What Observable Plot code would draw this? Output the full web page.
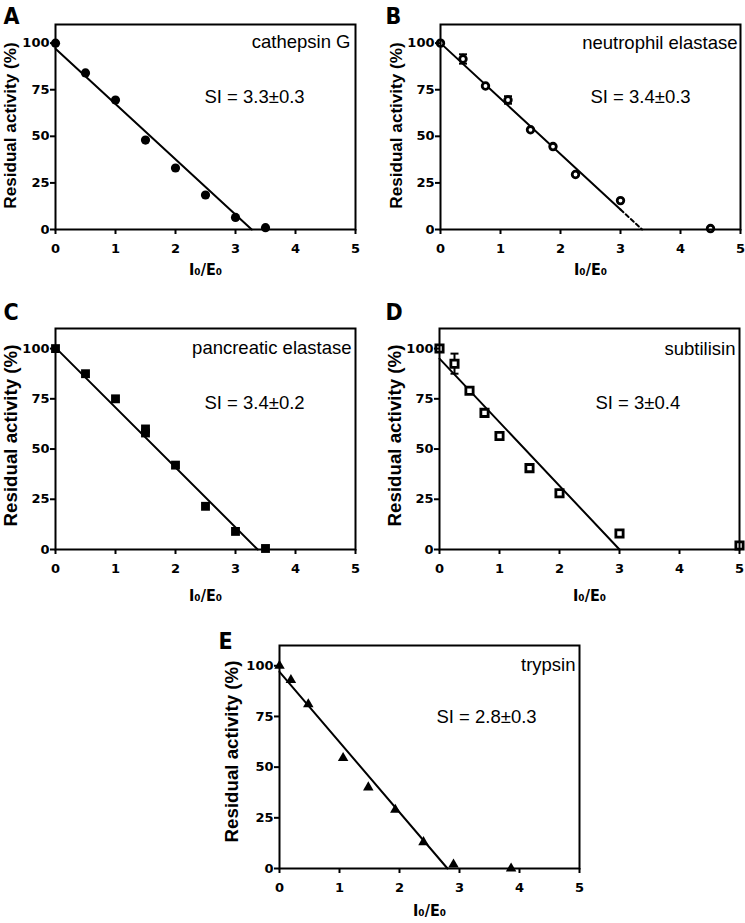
<!DOCTYPE html>
<html><head><meta charset="utf-8">
<script src="https://cdn.jsdelivr.net/npm/d3@7"></script>
<script src="https://cdn.jsdelivr.net/npm/@observablehq/plot@0.6"></script>
<style>
html,body{margin:0;padding:0;background:#fff;}
#fig{position:relative;width:745px;height:923px;overflow:hidden;background:#fff;}
#fig > div{position:absolute;}
#fig svg{overflow:visible;}
</style></head><body><div id="fig"></div>
<script>
// ---------- data ----------
const xTicks = [0, 1, 2, 3, 4, 5];
const yTicks = [0, 25, 50, 75, 100];
const panelLetters = ["A", "B", "C", "D", "E"];
const enzymes = ["cathepsin G", "neutrophil elastase", "pancreatic elastase", "subtilisin", "trypsin"];
const siLabels = ["SI = 3.3±0.3", "SI = 3.4±0.3", "SI = 3.4±0.2", "SI = 3±0.4", "SI = 2.8±0.3"];
const xTitle = "I₀/E₀";
const yTitle = "Residual activity (%)";

// A: cathepsin G
const xA = [0, 0.5, 1, 1.5, 2, 2.5, 3, 3.5];
const yA = [100, 84, 69.5, 48, 33, 18.5, 6.5, 1];
const fitXA = [0, 3.27], fitYA = [97, 0];
// B: neutrophil elastase
const xB = [0, 0.375, 0.75, 1.125, 1.5, 1.875, 2.25, 3, 4.5];
const yB = [100, 91.5, 77, 69.5, 53.5, 44.5, 29.5, 15.5, 0.5];
const errB = [0, 2.5, 0, 2, 0, 0, 0, 0, 0];
const fitXB = [0, 3], fitYB = [100, 10.7];
const dashXB = [3, 3.36], dashYB = [10.7, 0];
// C: pancreatic elastase
const xC = [0, 0.5, 1, 1.5, 1.5, 2, 2.5, 3, 3.5];
const yC = [100, 87.5, 75, 60, 58, 42, 21.5, 9, 0.5];
const fitXC = [0, 3.37], fitYC = [100.5, 0];
// D: subtilisin
const xD = [0, 0.25, 0.5, 0.75, 1, 1.5, 2, 3, 5];
const yD = [100, 92.5, 79, 68, 56.5, 40.5, 28, 8, 2];
const errD = [1, 5, 0, 0, 0, 0, 0, 0, 0];
const fitXD = [0, 3], fitYD = [95, 0];
// E: trypsin
const xE = [0, 0.19, 0.48, 1.06, 1.48, 1.93, 2.4, 2.9, 3.86];
const yE = [100, 93, 81, 54.5, 40, 29, 13, 2, 0];
const fitXE = [0, 2.8], fitYE = [97, 0];

// ---------- helpers ----------
const pts = (xs, ys, es) => xs.map((x, i) => ({x, y: ys[i], e: es ? es[i] : 0}));
const capSymbol = {draw(ctx) { ctx.moveTo(-4, 0); ctx.lineTo(4, 0); }};

const labelFont = "Liberation Sans, Arial, sans-serif";
const tickFont = "DejaVu Sans, sans-serif";
const condFont = "DejaVu Sans Condensed, Open Sans, DejaVu Sans, sans-serif";

const layout = [
  {left: 0,   top: 0,   w: 372, h: 300, ml: 55, mt: 24, mr: 17, mb: 71, nameDx: -5, nameDy: 10, siDx: 149, siDy: 65, letDx: -52, letDy: -17, xtDy: 34, ytDx: -44.5, ytDy: -1.5, ytSize: 17.1},
  {left: 372, top: 0,   w: 373, h: 300, ml: 68, mt: 24, mr: 5,  mb: 71, nameDx: -3, nameDy: 11, siDx: 150, siDy: 65, letDx: -55, letDy: -17, xtDy: 34, ytDx: -44.3, ytDy: -1.5, ytSize: 17.1},
  {left: 0,   top: 300, w: 372, h: 310, ml: 55, mt: 28, mr: 17, mb: 61, nameDx: -4, nameDy: 12, siDx: 149, siDy: 67, letDx: -52, letDy: -25, xtDy: 40, ytDx: -44.5, ytDy: -3.5, ytSize: 18.7},
  {left: 372, top: 300, w: 373, h: 310, ml: 67, mt: 28, mr: 6,  mb: 61, nameDx: -4, nameDy: 13, siDx: 156, siDy: 67, letDx: -54, letDy: -25, xtDy: 40, ytDx: -44.5, ytDy: -3.5, ytSize: 18.7},
  {left: 200, top: 610, w: 390, h: 313, ml: 79, mt: 35, mr: 11, mb: 55, nameDx: -4, nameDy: 12, siDx: 157, siDy: 64, letDx: -61, letDy: -13, xtDy: 36, ytDx: -47.5, ytDy: -5.5, ytSize: 18.7}
];

const pointStyles = [
  {symbol: "circle", r: 4.6, fill: "black"},
  {symbol: "circle", r: 3.3, fill: "white", stroke: "black", strokeWidth: 2.8},
  {symbol: "square", r: 5, fill: "black"},
  {symbol: "square", r: 4.1, fill: "white", stroke: "black", strokeWidth: 2.8},
  {symbol: "triangle", r: 3.9, fill: "black"}
];

const series = [
  {pts: pts(xA, yA), fits: [[fitXA, fitYA, null]]},
  {pts: pts(xB, yB, errB), fits: [[fitXB, fitYB, null], [dashXB, dashYB, "4,3"]]},
  {pts: pts(xC, yC), fits: [[fitXC, fitYC, null]]},
  {pts: pts(xD, yD, errD), fits: [[fitXD, fitYD, null]]},
  {pts: pts(xE, yE), fits: [[fitXE, fitYE, null]]}
];

const fig = document.getElementById("fig");

series.forEach((s, i) => {
  const L = layout[i];
  const errs = s.pts.filter(d => d.e > 0);
  const marks = [
    ...s.fits.map(([fx, fy, dash]) => Plot.line(pts(fx, fy), {x: "x", y: "y", stroke: "black", strokeWidth: 2, strokeDasharray: dash || undefined})),
    Plot.ruleX(errs, {x: "x", y1: d => d.y - d.e, y2: d => d.y + d.e, stroke: "black", strokeWidth: 2}),
    Plot.dot(errs, {x: "x", y: d => d.y + d.e, symbol: capSymbol, stroke: "black", strokeWidth: 2, fill: "none"}),
    Plot.dot(errs, {x: "x", y: d => d.y - d.e, symbol: capSymbol, stroke: "black", strokeWidth: 2, fill: "none"}),
    Plot.dot(s.pts, {x: "x", y: "y", ...pointStyles[i]}),
    Plot.frame({stroke: "black", strokeWidth: 2}),
    Plot.axisX(xTicks, {tickSize: 5, tickPadding: 9, strokeWidth: 2, fontSize: 13, fontFamily: tickFont, fontWeight: "bold", fill: "black", label: null}),
    Plot.axisY(yTicks, {tickSize: 5, tickPadding: 1, strokeWidth: 2, fontSize: 13, fontFamily: tickFont, fontWeight: "bold", fill: "black", label: null}),
    Plot.text([panelLetters[i]], {text: d => d, frameAnchor: "top-left", textAnchor: "start", lineAnchor: "top", dx: L.letDx, dy: L.letDy, fontSize: 23, fontWeight: "bold", fontFamily: condFont, fill: "black"}),
    Plot.text([enzymes[i]], {text: d => d, frameAnchor: "top-right", textAnchor: "end", lineAnchor: "top", dx: L.nameDx, dy: L.nameDy, fontSize: 18.5, fontFamily: labelFont, fill: "black"}),
    Plot.text([siLabels[i]], {text: d => d, frameAnchor: "top-left", textAnchor: "start", lineAnchor: "top", dx: L.siDx, dy: L.siDy, fontSize: 18.5, fontFamily: labelFont, fill: "black"}),
    Plot.text([xTitle], {text: d => d, frameAnchor: "bottom", textAnchor: "middle", lineAnchor: "top", dy: L.xtDy, fontSize: 16, fontWeight: "bold", fontFamily: condFont, fill: "black"}),
    Plot.text([yTitle], {text: d => d, frameAnchor: "left", textAnchor: "middle", lineAnchor: "middle", rotate: -90, dx: L.ytDx, dy: L.ytDy, fontSize: L.ytSize, fontWeight: "bold", fontFamily: labelFont, fill: "black"})
  ];
  const chart = Plot.plot({
    width: L.w, height: L.h,
    marginLeft: L.ml, marginTop: L.mt, marginRight: L.mr, marginBottom: L.mb,
    x: {domain: [0, 5], axis: null},
    y: {domain: [0, 110], axis: null},
    style: {background: "white", color: "black", overflow: "visible"},
    marks
  });
  const holder = document.createElement("div");
  holder.style.left = L.left + "px";
  holder.style.top = L.top + "px";
  holder.appendChild(chart);
  fig.appendChild(holder);
});
</script></body></html>
